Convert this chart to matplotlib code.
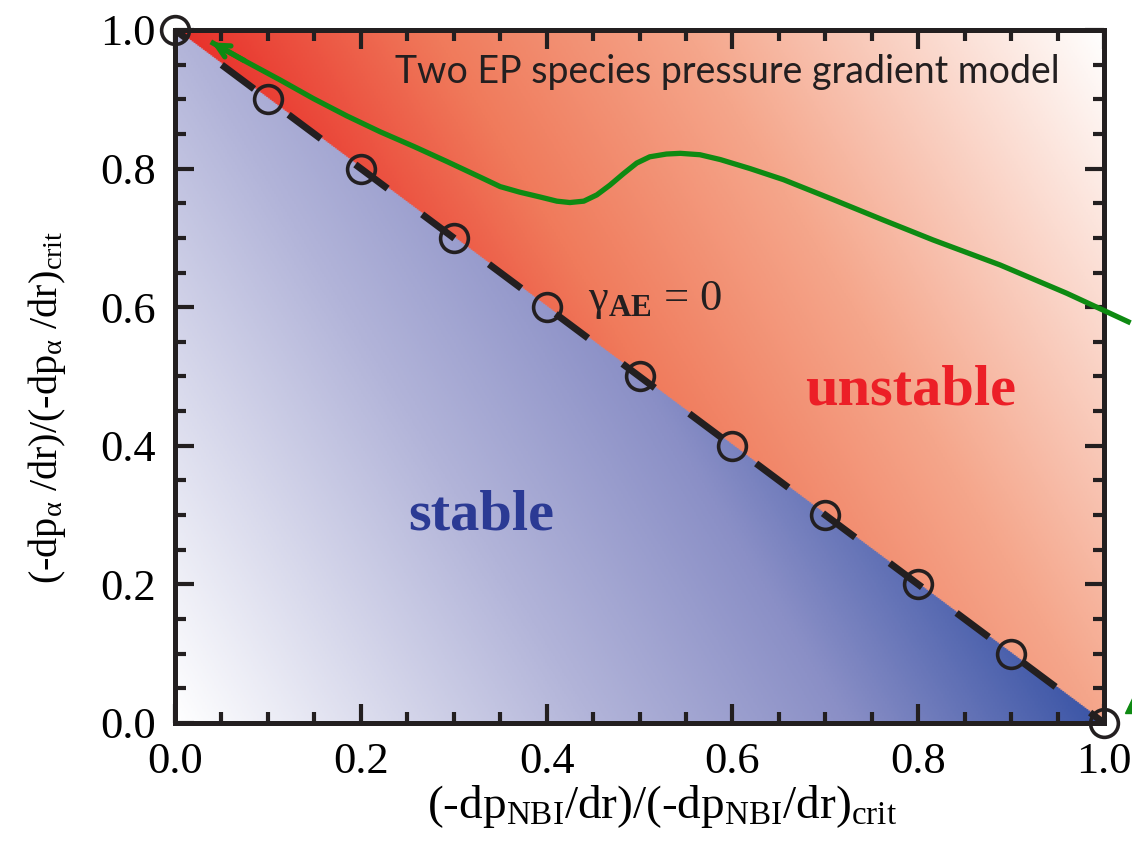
import numpy as np
import matplotlib
matplotlib.use('Agg')
import matplotlib.pyplot as plt
from matplotlib.colors import LinearSegmentedColormap

plt.rcParams['font.family'] = ['Liberation Serif', 'DejaVu Serif']
plt.rcParams['mathtext.fontset'] = 'custom'
plt.rcParams['mathtext.rm'] = 'Liberation Serif'
plt.rcParams['mathtext.it'] = 'Liberation Serif:italic'
plt.rcParams['mathtext.bf'] = 'Liberation Serif:bold'

# marginal stability points (gamma_AE = 0)
nbi_frac = [0.0, 0.1, 0.2, 0.3, 0.4, 0.5, 0.6, 0.7, 0.8, 0.9, 1.0]
alpha_frac = [1.0, 0.9, 0.8, 0.7, 0.6, 0.5, 0.4, 0.3, 0.2, 0.1, 0.0]

# green trajectory (two EP species pressure gradient model)
traj_x = [0.041, 0.077, 0.113, 0.149, 0.185, 0.221, 0.257, 0.293, 0.328, 0.350,
          0.371, 0.393, 0.411, 0.425, 0.440, 0.454, 0.468, 0.483, 0.497, 0.511,
          0.529, 0.544, 0.565, 0.587, 0.619, 0.655, 0.709, 0.762, 0.816, 0.888,
          0.96, 1.026]
traj_y = [0.981, 0.954, 0.928, 0.901, 0.876, 0.853, 0.832, 0.810, 0.788, 0.774,
          0.766, 0.759, 0.753, 0.751, 0.753, 0.762, 0.776, 0.793, 0.808, 0.817,
          0.821, 0.822, 0.820, 0.813, 0.800, 0.784, 0.755, 0.726, 0.697, 0.661,
          0.620, 0.579]

ticks = [0.0, 0.2, 0.4, 0.6, 0.8, 1.0]
tick_labels = ['0.0', '0.2', '0.4', '0.6', '0.8', '1.0']

fig = plt.figure(figsize=(11.32, 8.47), dpi=100)
ax = fig.add_axes([0.1546, 0.1464, 0.8207, 0.8182])

# background gradients
n = 500
g = np.linspace(0, 1, n)
X, Y = np.meshgrid(g, g)
unstable = Y > 1 - X
red_cmap = LinearSegmentedColormap.from_list(
    'r', [(0, '#ffffff'), (0.45, '#f5a68b'), (0.725, '#f07a5b'), (1, '#e8302a')])
blue_cmap = LinearSegmentedColormap.from_list(
    'b', [(0, '#ffffff'), (0.45, '#b2b4d9'), (0.725, '#8a8fc6'), (1, '#3b55a6')])
t_red = np.clip(1.45 - X - 0.45 * Y, 0, 1)
t_blue = np.clip(X + 0.45 * Y, 0, 1)
img = np.where(unstable[..., None], red_cmap(t_red), blue_cmap(t_blue))
ax.imshow(img, extent=[0, 1, 0, 1], origin='lower', aspect='auto', zorder=0)

ax.plot(nbi_frac, alpha_frac, color='#231f20', lw=5,
        linestyle=(3.6, (5.8, 6.2)), zorder=2)
ax.plot(nbi_frac, alpha_frac, 'o', ms=20, mfc='none', mec='#231f20', mew=2.6,
        clip_on=False, zorder=3)

green = '#0e8a12'
ax.plot(traj_x, traj_y, color=green, lw=3.8, clip_on=False, zorder=4)
ax.annotate('', xy=(traj_x[0] - 0.004, traj_y[0] + 0.003), xytext=(traj_x[1], traj_y[1]),
            arrowprops=dict(arrowstyle='->,head_length=0.9,head_width=0.45',
                            color=green, lw=3.8), zorder=4)
ax.plot([1.036], [0.033], marker='^', ms=18, color=green, clip_on=False, zorder=4)

ax.text(0.595, 0.94, 'Two EP species pressure gradient model', fontsize=27,
        family=['Lato', 'DejaVu Sans'], color='#231f20', ha='center', va='center')
ax.text(0.792, 0.48, 'unstable', fontsize=42, fontweight='bold', color='#ec1f27',
        ha='center', va='center')
ax.text(0.330, 0.30, 'stable', fontsize=42, fontweight='bold', color='#2b3a94',
        ha='center', va='center')
ax.text(0.517, 0.61, 'γ$_{\\mathbf{AE}}$ = 0', fontsize=32, color='#231f20',
        ha='center', va='center')

ax.set_xlim(0, 1)
ax.set_ylim(0, 1)
ax.set_xticks(ticks)
ax.set_xticklabels(tick_labels)
ax.set_yticks(ticks)
ax.set_yticklabels(tick_labels)
ax.set_xticks(np.arange(0, 1.001, 0.05), minor=True)
ax.set_yticks(np.arange(0, 1.001, 0.05), minor=True)
ax.tick_params(which='both', direction='in', top=True, right=True, width=3,
               color='#231f20', labelsize=32, pad=14)
ax.tick_params(which='major', length=14)
ax.tick_params(which='minor', length=8)
for s in ax.spines.values():
    s.set_linewidth(3.6)
    s.set_color('#231f20')

ax.set_xlabel(r'(-dp$_{\mathrm{NBI}}$/dr)/(-dp$_{\mathrm{NBI}}$/dr)$_{\mathrm{crit}}$',
              fontsize=34)
ax.xaxis.set_label_coords(0.524, -0.087)
ax.set_ylabel(r'(-dp$_{\mathrm{α}}$ /dr)/(-dp$_{\mathrm{α}}$ /dr)$_{\mathrm{crit}}$',
              fontsize=29)
ax.yaxis.set_label_coords(-0.115, 0.456)

fig.savefig('out.png', dpi=100)
